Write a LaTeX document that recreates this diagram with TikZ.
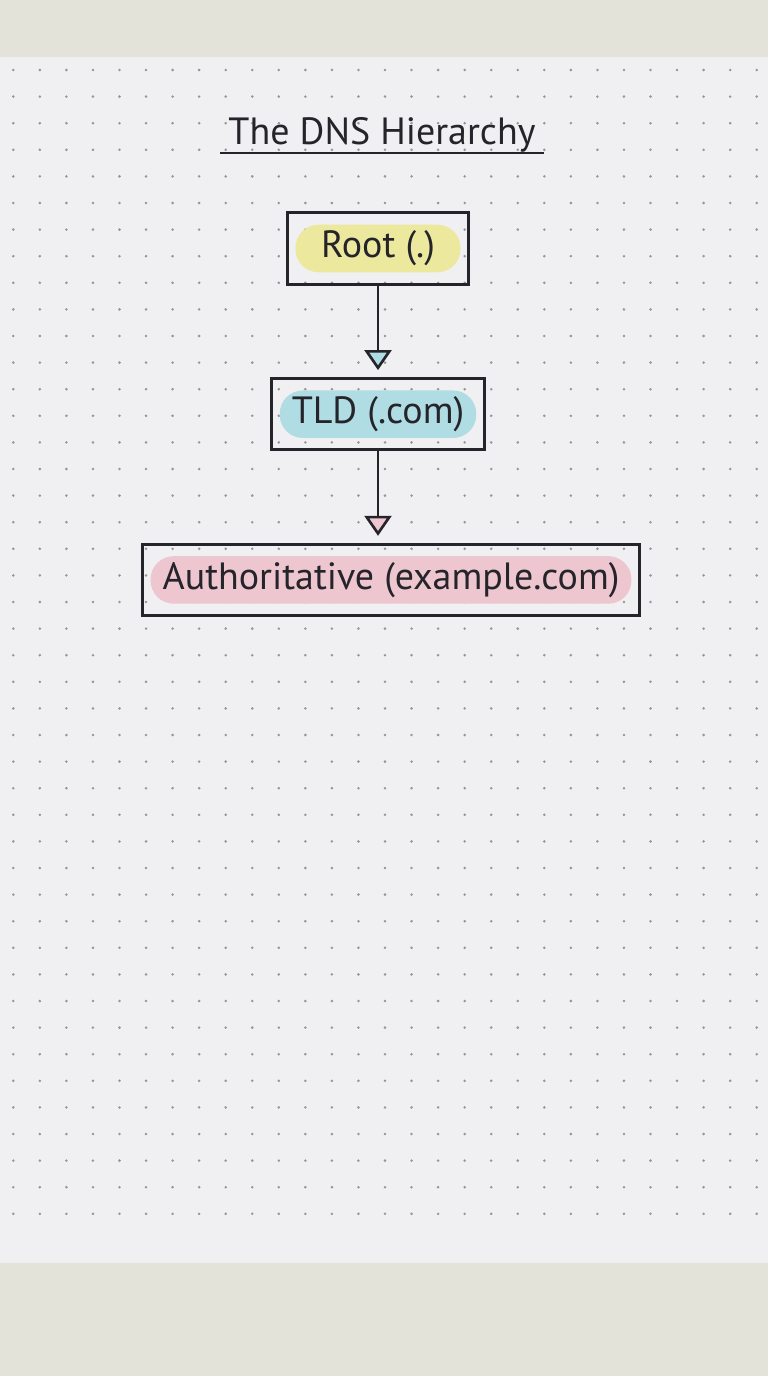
\documentclass[tikz,border=0pt]{standalone}
\usepackage{fontspec}
\setmainfont{PT Sans}
\usetikzlibrary{positioning,arrows.meta,fit,calc}
\pgfdeclarelayer{bg}
\pgfsetlayers{bg,main}
\definecolor{desk}{RGB}{228,227,218}
\definecolor{paper}{RGB}{240,240,242}
\definecolor{dotgray}{RGB}{150,150,154}
\definecolor{ink}{RGB}{36,36,42}
\definecolor{rootyellow}{RGB}{236,232,158}
\definecolor{tldblue}{RGB}{176,221,227}
\definecolor{authpink}{RGB}{238,198,208}
\tikzset{
	>={Triangle[width=5.4mm,length=4mm]}
}

\begin{document}
\begin{tikzpicture}[
x = 0.2mm, y = -0.2mm,
node distance = 2.35cm,
every node/.style = {
	font = \fontsize{21.6}{26}\selectfont,
	text = ink
},
marker/.style = {
	fill = #1,
	rounded corners = 4.6mm,
	minimum height = 9.5mm,
	inner xsep = 2.4mm
},
box/.style = {
	draw = ink,
	line width = 1.7pt,
	inner xsep = 1.6mm,
	inner ysep = 2.3mm
},
flow/.style = {
	draw = ink,
	line width = 1.5pt,
	shorten > = 1.4mm
}
]

% sheet of dotted paper
\fill[desk] (0,0) rectangle (768,1376);
\fill[paper] (0,57) rectangle (768,1263);
\foreach \i in {0,...,28}
	\foreach \j in {0,...,43}
		\fill[dotgray] ({13.3+26.55*\i},{70+26.6*\j}) circle (0.8pt);

\node (title) [anchor = base, inner xsep = 1.6mm] at (382,145) {The DNS Hierarchy};
\draw[ink, line width = 1.6pt] ([yshift=-1.6mm]title.base west) -- ([yshift=-1.6mm]title.base east);

\node (root-hl) [marker = rootyellow, minimum width = 3.3cm] at (378,248.5) {Root (.)};
\node (tld-hl) [marker = tldblue, below = of root-hl] {TLD (.com)};
\node (auth-hl) [marker = authpink, below = of tld-hl, xshift = 2.6mm] {Authoritative (example.com)};

\node (root) [box, fit = (root-hl)] {};
\node (tld) [box, fit = (tld-hl)] {};
\node (auth) [box, fit = (auth-hl)] {};

\draw[flow, -{Triangle[width=5.4mm,length=4mm,fill=tldblue]}] (root) -- (tld);
\draw[flow, -{Triangle[width=5.4mm,length=4mm,fill=authpink]}] (tld.south) -- (tld.south |- auth.north);

\end{tikzpicture}
\end{document}
